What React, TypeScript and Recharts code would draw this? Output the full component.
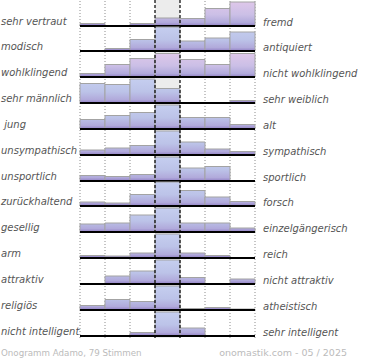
import React from 'react';
import { BarChart, Bar, XAxis, YAxis, ReferenceLine, ReferenceArea, ComposedChart, Line } from 'recharts';

const columns = ['1', '2', '3', '4', '5', '6', '7'];

const leftLabels = [
  'sehr vertraut', 'modisch', 'wohlklingend', 'sehr männlich', ' jung', 'unsympathisch',
  'unsportlich', 'zurückhaltend', 'gesellig', 'arm', 'attraktiv', 'religiös', 'nicht intelligent',
];
const rightLabels = [
  'fremd', 'antiquiert', 'nicht wohlklingend', 'sehr weiblich', 'alt', 'sympathisch',
  'sportlich', 'forsch', 'einzelgängerisch', 'reich', 'nicht attraktiv', 'atheistisch', 'sehr intelligent',
];

const vertraut = [2.5, 0, 2.5, 8, 7.5, 17.5, 24];
const modisch = [0, 2.5, 11.5, 24, 10, 13, 19];
const wohlklingend = [3.5, 12.5, 18.5, 23.5, 17.5, 12.5, 23.5];
const maennlich = [19.5, 18.5, 24, 14.5, 0, 0, 2.5];
const jung = [9.5, 13.5, 16.5, 24, 11.5, 11.5, 4.5];
const unsympathisch = [5, 7, 9.5, 24, 13, 6, 3.5];
const unsportlich = [5.5, 4.5, 6.5, 24, 13, 14.5, 0];
const zurueckhaltend = [4, 3, 11.5, 24, 15.5, 9, 4.5];
const gesellig = [8, 9, 17, 24, 9, 9, 4];
const arm = [2.5, 2, 5, 24, 5, 2.5, 0];
const attraktiv = [0, 8, 13, 24, 6.5, 0, 5];
const religioes = [4.5, 10.5, 8.5, 24, 1.5, 2.5, 1];
const intelligent = [0, 0, 3.5, 24, 8, 0.5, 0];

const rows = [
  vertraut, modisch, wohlklingend, maennlich, jung, unsympathisch, unsportlich,
  zurueckhaltend, gesellig, arm, attraktiv, religioes, intelligent,
];

const footerLeft = 'Onogramm Adamo, 79 Stimmen';
const footerRight = 'onomastik.com - 05 / 2025';

// layout / style
const W = 370;
const LEFT = 80;
const RIGHT = 115;
const PLOT_H = 25;
const ROW0 = 25.6;
const ROW_STEP = 25.83;
const PINK_ROWS = [0, 2];
const FONT = '"DejaVu Sans", Verdana, sans-serif';

const baselineOf = (i: number) => Math.round(ROW0 + ROW_STEP * i);

function RowChart({ values, index }: { values: number[]; index: number }) {
  const data = columns.map((c, k) => ({ c, v: values[k] }));
  const baseline = baselineOf(index);
  const pink = PINK_ROWS.includes(index);
  const id = `grad${index}`;
  return (
    <div style={{ position: 'absolute', left: 0, top: baseline - PLOT_H }}>
      <BarChart
        width={W}
        height={PLOT_H + 3}
        data={data}
        margin={{ top: 0, right: RIGHT, bottom: 3, left: LEFT }}
        barCategoryGap={0}
        barGap={0}
      >
        <defs>
          <linearGradient id={id} gradientUnits="userSpaceOnUse" x1={0} y1={0} x2={0} y2={PLOT_H}>
            <stop offset="0" stopColor={pink ? '#e0c8ea' : '#c6cff0'} />
            <stop offset="0.55" stopColor={pink ? '#cbbfe6' : '#bcc3e8'} />
            <stop offset="0.86" stopColor="#b1aadb" />
            <stop offset="1" stopColor="#9180c4" />
          </linearGradient>
        </defs>
        <XAxis dataKey="c" hide />
        <YAxis hide domain={[0, PLOT_H]} allowDataOverflow />
        <Bar dataKey="v" fill={`url(#${id})`} stroke="#a3a3a3" strokeWidth={1} isAnimationActive={false} />
        <ReferenceLine y={0} stroke="#000" strokeWidth={2} ifOverflow="visible" />
      </BarChart>
    </div>
  );
}

function GridChart({ front }: { front: boolean }) {
  const data = [0, 1, 2, 3, 4, 5, 6, 7].map((x) => ({ x, y: 0 }));
  return (
    <div style={{ position: 'absolute', left: 0, top: 0 }}>
      <ComposedChart width={W} height={340} data={data} margin={{ top: 0, right: RIGHT, bottom: 2, left: LEFT }}>
        <XAxis type="number" dataKey="x" domain={[0, 7]} hide />
        <YAxis type="number" hide domain={[0, 1]} />
        <Line dataKey="y" stroke="none" dot={false} activeDot={false} isAnimationActive={false} />
        {!front && <ReferenceArea x1={3} x2={4} y1={0} y2={1} fill="#ececec" fillOpacity={1} stroke="none" />}
        {!front &&
          [0, 1, 2, 5, 6, 7].map((x) => (
            <ReferenceLine key={x} x={x} stroke="#8c8c8c" strokeDasharray="1 2" />
          ))}
        {front &&
          [3, 4].map((x) => (
            <ReferenceLine key={x} x={x} stroke="#000" strokeWidth={1.2} strokeDasharray="3 2" />
          ))}
      </ComposedChart>
    </div>
  );
}

export default function App() {
  return (
    <div style={{ position: 'absolute', left: 0, top: 0, width: W, height: 360, background: '#fff' }}>
      <GridChart front={false} />
      {rows.map((r, i) => (
        <RowChart key={i} values={r} index={i} />
      ))}
      <GridChart front />
      <svg width={W} height={360} style={{ position: 'absolute', left: 0, top: 0, pointerEvents: 'none' }}>
        {leftLabels.map((t, i) => (
          <text
            key={'l' + i}
            x={1}
            y={baselineOf(i) - 1}
            fontFamily={FONT}
            fontStyle="italic"
            fontSize={10}
            fill="#555"
            style={{ whiteSpace: 'pre' }}
          >
            {t}
          </text>
        ))}
        {rightLabels.map((t, i) => (
          <text
            key={'r' + i}
            x={263}
            y={baselineOf(i) - 0.5}
            fontFamily={FONT}
            fontStyle="italic"
            fontSize={10}
            fill="#555"
          >
            {t}
          </text>
        ))}
        <text x={1} y={356} fontFamily={FONT} fontSize={8.7} fill="#bbb">
          {footerLeft}
        </text>
        <text x={347} y={356} textAnchor="end" fontFamily={FONT} fontSize={9.5} fill="#bbb">
          {footerRight}
        </text>
      </svg>
    </div>
  );
}
